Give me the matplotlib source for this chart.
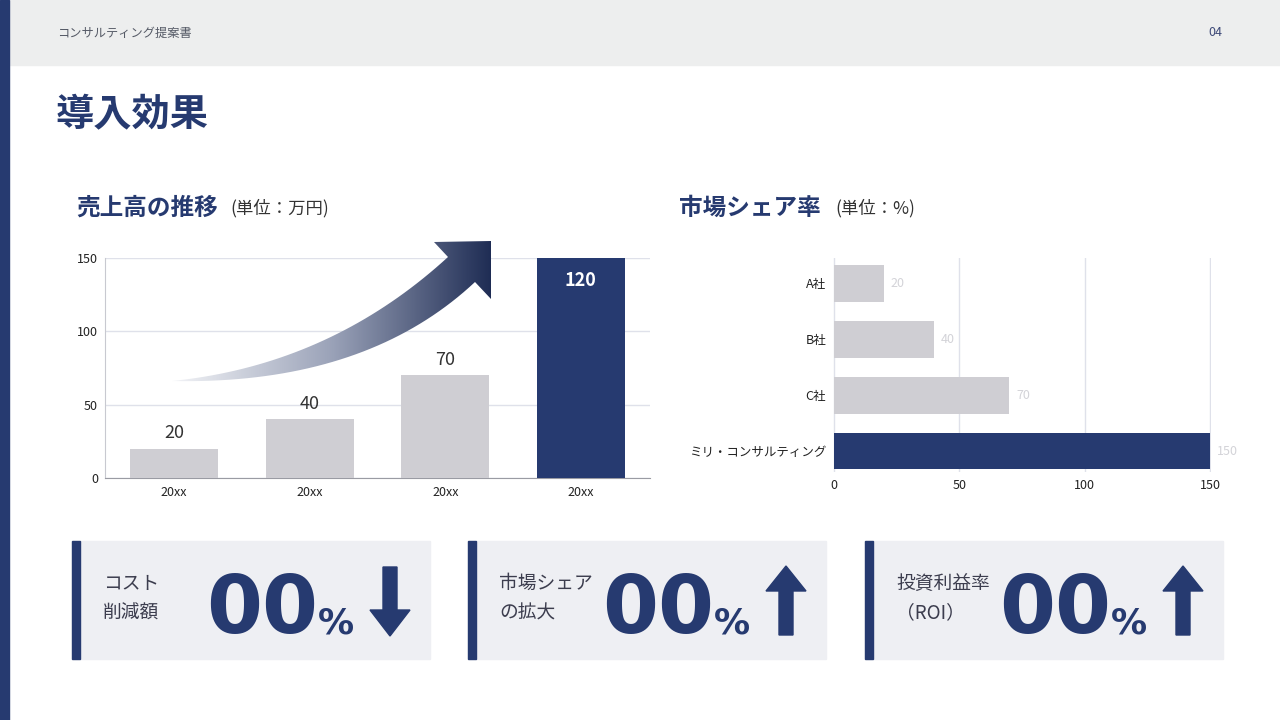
import numpy as np
import matplotlib
matplotlib.use("Agg")
import matplotlib.pyplot as plt
from matplotlib.patches import Rectangle, Polygon, PathPatch
from matplotlib.path import Path
from matplotlib.colors import LinearSegmentedColormap

plt.rcParams['font.family'] = ['Noto Sans CJK JP', 'DejaVu Sans']

# ---- data ----
sales_years = ["20xx", "20xx", "20xx", "20xx"]
sales_bars = [20, 40, 70, 150]          # bar heights as drawn
sales_labels = ["20", "40", "70", "120"]  # labels printed on the bars
sales_ticks = [0, 50, 100, 150]

share_names = ["ミリ・コンサルティング", "C社", "B社", "A社"]
share_values = [150, 70, 40, 20]
share_ticks = [0, 50, 100, 150]

card_lines = [["コスト", "削減額"], ["市場シェア", "の拡大"], ["投資利益率", "（ROI）"]]
card_values = ["00", "00", "00"]
card_dirs = ["down", "up", "up"]

NAVY = "#263a70"
GRAY_BAR = "#cfced3"
GRID = "#dfe1ea"
W, H = 1280, 720

fig = plt.figure(figsize=(12.8, 7.2), dpi=100)
fig.patch.set_facecolor("white")


def px_axes(l, t, r, b, **kw):
    return fig.add_axes([l / W, 1 - b / H, (r - l) / W, (b - t) / H], **kw)


# background layer in pixel coords
bg = px_axes(0, 0, W, H, zorder=0)
bg.set_xlim(0, W)
bg.set_ylim(H, 0)
bg.axis("off")
bg.add_patch(Rectangle((0, 0), W, 65, color="#edeeee"))
bg.add_patch(Rectangle((0, 0), 9, H, color=NAVY))
bg.text(57, 33, "コンサルティング提案書", fontsize=8.8, color="#555a66", va="center")
bg.text(1222, 33, "04", fontsize=9, color="#3e4a78", va="center", ha="right")
bg.text(56, 114, "導入効果", fontsize=27.5, fontweight="bold", color=NAVY, va="center")
bg.text(76, 208, "売上高の推移", fontsize=17, fontweight="bold", color=NAVY, va="center")
bg.text(230, 208, "(単位：万円)", fontsize=12.5, color="#333333", va="center")
bg.text(679, 208, "市場シェア率", fontsize=17, fontweight="bold", color=NAVY, va="center")
bg.text(835, 208, "(単位：%)", fontsize=12.5, color="#333333", va="center")

# ---- cards ----
card_x = [72, 468, 865]
card_w = 358
for i, cx in enumerate(card_x):
    bg.add_patch(Rectangle((cx, 541), card_w, 118, color="#eeeff3"))
    bg.add_patch(Rectangle((cx, 541), 8, 118, color=NAVY))
    bg.text(cx + 31, 583, card_lines[i][0], fontsize=13.5, color="#3c3d4e", va="center")
    bg.text(cx + 31, 613, card_lines[i][1], fontsize=13.5, color="#3c3d4e", va="center")
    bg.text(cx + 134, 633, card_values[i], fontsize=58, fontweight="bold",
            color=NAVY, va="baseline", family="DejaVu Sans")
    bg.text(cx + 246, 633, "%", fontsize=26, fontweight="bold",
            color=NAVY, va="baseline", family="DejaVu Sans")
    ac = cx + 318
    if card_dirs[i] == "down":
        pts = [(ac - 7, 567), (ac + 7, 567), (ac + 7, 610), (ac + 20, 610),
               (ac, 636), (ac - 20, 610), (ac - 7, 610)]
    else:
        pts = [(ac - 7, 635), (ac + 7, 635), (ac + 7, 591), (ac + 20, 591),
               (ac, 566), (ac - 20, 591), (ac - 7, 591)]
    bg.add_patch(Polygon(pts, closed=True, color=NAVY))

# ---- sales bar chart ----
ax1 = px_axes(105, 258, 650, 478, zorder=2)
x = np.arange(len(sales_bars))
colors1 = [GRAY_BAR] * (len(sales_bars) - 1) + [NAVY]
ax1.bar(x, sales_bars, width=0.65, color=colors1, zorder=3)
ax1.set_xlim(-0.51, len(sales_bars) - 0.49)
ax1.set_ylim(0, 150)
ax1.set_yticks(sales_ticks)
ax1.set_xticks(x)
ax1.set_xticklabels(sales_years)
ax1.tick_params(length=0, labelsize=9, colors="#222222")
ax1.tick_params(axis="y", pad=5)
ax1.tick_params(axis="x", pad=6)
ax1.grid(axis="y", color=GRID, lw=1, zorder=0)
for s in ["top", "right"]:
    ax1.spines[s].set_visible(False)
ax1.spines["left"].set_color("#c8c9d0")
ax1.spines["bottom"].set_color("#9a9ba3")
for i, (v, lab) in enumerate(zip(sales_bars, sales_labels)):
    if i == len(sales_bars) - 1:
        ax1.annotate(lab, (i, v), xytext=(0, -16), textcoords="offset points",
                     ha="center", va="center", fontsize=13, fontweight="bold", color="white")
    else:
        ax1.annotate(lab, (i, v), xytext=(0, 11), textcoords="offset points",
                     ha="center", va="center", fontsize=13, color="#333333")

# ---- market share horizontal bars ----
ax2 = px_axes(833, 258, 1211, 472, zorder=2)
y = np.arange(len(share_values))
colors2 = [NAVY] + [GRAY_BAR] * (len(share_values) - 1)
ax2.barh(y, share_values, height=0.66, color=colors2, zorder=3)
ax2.set_xlim(-0.3, 150.3)
ax2.set_ylim(-0.375, 3.45)
ax2.set_xticks(share_ticks)
ax2.set_yticks(y)
ax2.set_yticklabels(share_names)
ax2.tick_params(length=0, labelsize=9, colors="#222222", pad=5)
ax2.grid(axis="x", color=GRID, lw=1, zorder=0)
for s in ax2.spines.values():
    s.set_visible(False)
for yi, v in zip(y, share_values):
    ax2.annotate(str(v), (v, yi), xytext=(5, 0), textcoords="offset points",
                 ha="left", va="center", fontsize=9, color="#d3d3d8")

# ---- gradient growth arrow ----
ov = px_axes(0, 0, W, H, zorder=5)
ov.set_facecolor("none")
ov.axis("off")


def qbez(p0, p1, p2, n=40):
    t = np.linspace(0, 1, n)[:, None]
    return (1 - t) ** 2 * np.array(p0) + 2 * (1 - t) * t * np.array(p1) + t ** 2 * np.array(p2)


upper = qbez((172, 381), (330, 365), (448, 257))
lower = qbez((172, 381), (365, 385), (475, 282))
head = np.array([(434, 242), (491, 241), (491, 299)])
verts = np.vstack([upper, head, lower[::-1]])
arrow_patch = PathPatch(Path(verts, closed=False), facecolor="none", edgecolor="none",
                        transform=ov.transData)
ov.add_patch(arrow_patch)
cmap = LinearSegmentedColormap.from_list("g", ["#f4f5f8", "#9aa2b8", "#1c2a52"])
grad = np.linspace(0, 1, 256)[None, :]
im = ov.imshow(grad, cmap=cmap, extent=(170, 495, 400, 235), aspect="auto", zorder=5)
im.set_clip_path(arrow_patch)
ov.set_xlim(0, W)
ov.set_ylim(H, 0)

fig.savefig("out.png", dpi=100)
